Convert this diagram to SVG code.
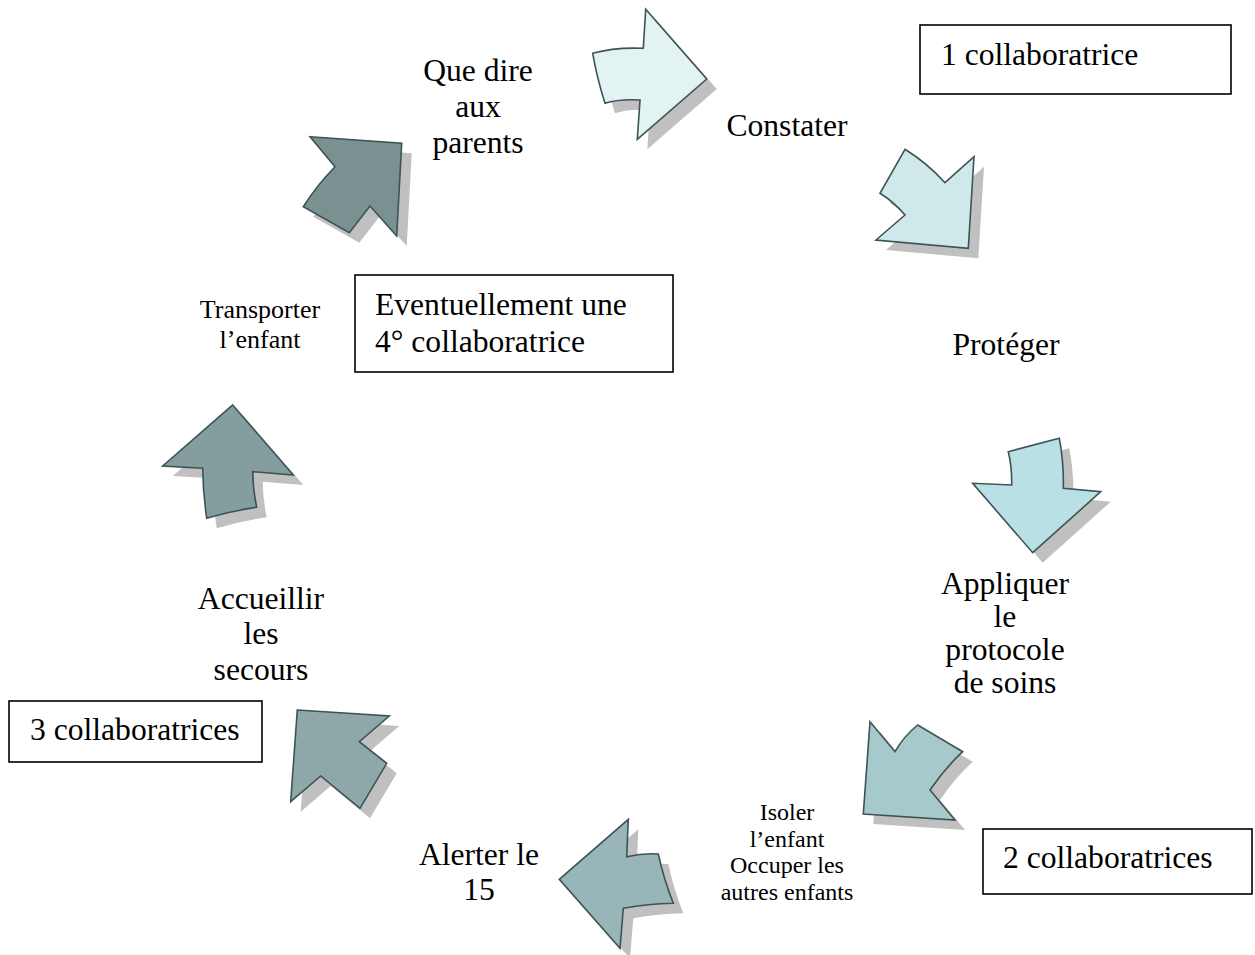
<svg xmlns="http://www.w3.org/2000/svg" width="1255" height="955" viewBox="0 0 1255 955">
<style>
.t{font-family:"Liberation Serif","Times New Roman",serif;font-size:31.6px;fill:#000;text-anchor:middle}
.s{font-size:24px}
.s2{font-size:26px}
.l{text-anchor:start}
.box{fill:#fff;stroke:#000;stroke-width:1.6}
.sh{fill:#c0c0c0}
.ar{stroke:#3d5354;stroke-width:1.6;stroke-linejoin:miter}
</style>
<defs>
<path id="p1" d="M592.7,53.3 Q615,47 643.3,48.3 L645.7,9.3 L706.7,79 L637.3,139.3 L640,100 Q618,99 605,103.3 Q597,78 592.7,53.3 Z"/>
<path id="p2" d="M905,149.3 Q927,163 945,182.7 L974,156.7 L968.3,248.3 L876,240 L905,215 Q894,202 880,193.3 Z"/>
<path id="p3" d="M1008.3,451.7 L1059.3,438.3 Q1064,463 1063.3,488.3 L1100.7,491.7 L1032.7,552.7 L972.7,483.3 L1011.7,485 Q1012,467 1008.3,451.7 Z"/>
<path id="p4" d="M870,721.7 L895,751.7 Q904,736 917.7,725 L962.7,751.7 Q945,768 930,790 L955,820 L863.3,814 Z"/>
<path id="p5" d="M628.3,819.3 L626.7,856.7 Q643,853 658.3,854 Q664,880 673.3,903.3 Q648,904 623.3,908.3 L620,948.3 L559.3,879.3 Z"/>
<path id="p6" d="M297.3,710 L389.3,716 L359.3,741.7 L386.7,763.3 L360,808.3 L320.7,776 L290.7,801.7 Z"/>
<path id="p7" d="M232.7,405 L293.3,475 L252.7,471.7 Q253,490 256.7,507.3 Q231,511 206.7,518.3 Q203,493 202.7,468.3 L162.7,466 Z"/>
<path id="p8" d="M310,136.7 L401.7,143.3 L396.7,236 L370,206 L349.3,232.7 L303.3,206.7 Q317,185 335,166.7 Z"/>
</defs>
<rect width="1255" height="955" fill="#fff"/>
<g id="connectors">
<g id="arrow1"><use href="#p1" class="sh" transform="translate(10,10)"/><use href="#p1" class="ar" fill="#e3f3f4"/></g>
<g id="arrow2"><use href="#p2" class="sh" transform="translate(10,10)"/><use href="#p2" class="ar" fill="#cfe9eb"/></g>
<g id="arrow3"><use href="#p3" class="sh" transform="translate(10,10)"/><use href="#p3" class="ar" fill="#b9e0e4"/></g>
<g id="arrow4"><use href="#p4" class="sh" transform="translate(10,10)"/><use href="#p4" class="ar" fill="#a6c9cb"/></g>
<g id="arrow5"><use href="#p5" class="sh" transform="translate(10,10)"/><use href="#p5" class="ar" fill="#98b5b7"/></g>
<g id="arrow6"><use href="#p6" class="sh" transform="translate(10,10)"/><use href="#p6" class="ar" fill="#8ea8aa"/></g>
<g id="arrow7"><use href="#p7" class="sh" transform="translate(10,10)"/><use href="#p7" class="ar" fill="#849d9f"/></g>
<g id="arrow8"><use href="#p8" class="sh" transform="translate(10,10)"/><use href="#p8" class="ar" fill="#7a9192"/></g>
</g>
<g id="n-que-dire"><text class="t" x="478" y="81">Que dire</text><text class="t" x="478" y="117">aux</text><text class="t" x="478" y="153">parents</text></g>
<g id="n-constater"><text class="t" x="787" y="136">Constater</text></g>
<g id="n-proteger"><text class="t" x="1006" y="355">Protéger</text></g>
<g id="n-appliquer"><text class="t" x="1005" y="594">Appliquer</text><text class="t" x="1005" y="627">le</text><text class="t" x="1005" y="660">protocole</text><text class="t" x="1005" y="693">de soins</text></g>
<g id="n-isoler"><text class="t s" x="787" y="820">Isoler</text><text class="t s" x="787" y="847">l’enfant</text><text class="t s" x="787" y="873">Occuper les</text><text class="t s" x="787" y="900">autres enfants</text></g>
<g id="n-alerter"><text class="t" x="479" y="865">Alerter le</text><text class="t" x="479" y="900">15</text></g>
<g id="n-accueillir"><text class="t" x="261" y="609">Accueillir</text><text class="t" x="261" y="644">les</text><text class="t" x="261" y="680">secours</text></g>
<g id="n-transporter"><text class="t s2" x="260" y="318">Transporter</text><text class="t s2" x="260" y="348">l’enfant</text></g>
<g id="box1"><rect class="box" x="920" y="25" width="311" height="69"/><text class="t l" x="941" y="65">1 collaboratrice</text></g>
<g id="box2"><rect class="box" x="983" y="829" width="269" height="65"/><text class="t l" x="1003" y="868">2 collaboratrices</text></g>
<g id="box3"><rect class="box" x="9" y="701" width="253" height="61"/><text class="t l" x="30" y="740">3 collaboratrices</text></g>
<g id="box4"><rect class="box" x="355" y="275" width="318" height="97"/><text class="t l" x="375" y="315">Eventuellement une</text><text class="t l" x="375" y="352">4° collaboratrice</text></g>
</svg>
